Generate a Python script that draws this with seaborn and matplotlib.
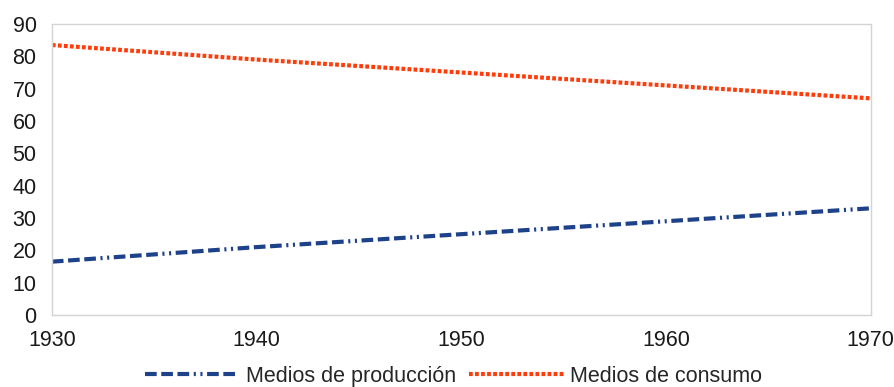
import matplotlib
matplotlib.use("Agg")
import matplotlib.pyplot as plt
import seaborn as sns
import pandas as pd

years = [1930, 1940, 1950, 1960, 1970]
produccion = [16.5, 21, 25, 29, 33]
consumo = [83.5, 79, 75, 71, 67]
series_names = ["Medios de producción", "Medios de consumo"]
y_ticks = list(range(0, 91, 10))

df = pd.DataFrame({
    "Año": years * 2,
    "Valor": produccion + consumo,
    "Serie": [series_names[0]] * len(years) + [series_names[1]] * len(years),
})

sns.set_theme(style="white")
plt.rcParams["font.family"] = ["Liberation Sans", "DejaVu Sans"]

fig = plt.figure(figsize=(8.94, 3.87), dpi=100)
ax = fig.add_axes([0.058, 0.186, 0.916, 0.752])

palette = {series_names[0]: "#1d428a", series_names[1]: "#ff3c0a"}
dashes = {series_names[0]: (2.8, 1.1, 2.8, 1.1, 2.8, 1.1, 0.5, 1.1, 0.5, 1.1),
          series_names[1]: (0.9, 0.55)}

sns.lineplot(data=df, x="Año", y="Valor", hue="Serie", style="Serie",
             palette=palette, dashes=dashes, linewidth=3.0, ax=ax)

for line in ax.get_lines():
    line.set_dash_capstyle("butt")

ax.set_xlim(1930, 1970)
ax.set_ylim(0, 90)
ax.set_xticks(years)
ax.set_yticks(y_ticks)
ax.set_xlabel("")
ax.set_ylabel("")

for side in ["left", "right", "top", "bottom"]:
    ax.spines[side].set_visible(True)
    ax.spines[side].set_color("#d4d4d4")
    ax.spines[side].set_linewidth(1.0)

ax.tick_params(axis="both", labelsize=15.5, labelcolor="#1a1a1a",
               colors="#c8c8c8", length=4, width=0.8, direction="out")
ax.tick_params(axis="x", length=0, pad=11)
ax.tick_params(axis="y", pad=7)
for lbl in ax.get_xticklabels() + ax.get_yticklabels():
    lbl.set_color("#1a1a1a")

handles, labels = ax.get_legend_handles_labels()
ax.legend(handles=handles, labels=labels, loc="center",
          bbox_to_anchor=(0.507, 0.028), bbox_transform=fig.transFigure,
          ncol=2, frameon=False, fontsize=15.5, handlelength=4.4,
          columnspacing=0.6, handletextpad=0.3, borderpad=0.0)

fig.savefig("out.png", dpi=100, facecolor="white")
